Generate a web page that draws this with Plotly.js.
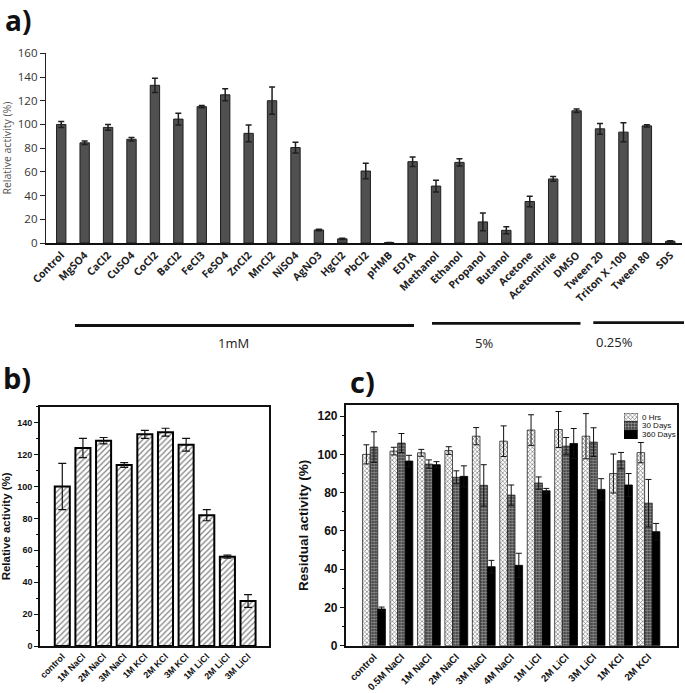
<!DOCTYPE html>
<html>
<head>
<meta charset="utf-8">
<script src="https://cdn.plot.ly/plotly-3.0.1.min.js"></script>
<style>html,body{margin:0;padding:0;background:#fff;}#chart{width:685px;height:693px;}</style>
</head>
<body>
<div id="chart"></div>
<script>
// ---- Panel a data ----
const catsA = ["Control","MgSO4","CaCl2","CuSO4","CoCl2","BaCl2","FeCl3","FeSO4","ZnCl2","MnCl2","NiSO4","AgNO3","HgCl2","PbCl2","pHMB","EDTA","Methanol","Ethanol","Propanol","Butanol","Acetone","Acetonitrile","DMSO","Tween 20","Triton X -100","Tween 80","SDS"];
const valsA = [100,84.5,97.5,87.5,133,104.5,115,125,92.5,120,80.5,11,3.5,60.7,0.4,68.6,48,68,17.8,10.7,35,54,111.5,96.3,93.5,98.8,1.5];
const errA  = [2.5,1.5,2.5,1.5,6,5,1,5,7,11.5,4.5,0.6,0.5,6.5,0,4,5,3,7.5,3,4.5,2,1.5,4.5,8,1,0.5];
const groupLabelsA = ["1mM","5%","0.25%"];

// ---- Panel b data ----
const catsB = ["control","1M NaCl","2M NaCl","3M NaCl","1M KCl","2M KCl","3M KCl","1M LiCl","2M LiCl","3M LiCl"];
const valsB = [100,124.1,128.7,113.5,132.7,134,126.2,82,56,28.2];
const errB  = [14.5,6,2,1.5,2.5,2.5,4,3.5,1,4];

// ---- Panel c data ----
const catsC = ["control","0.5M NaCl","1M NaCl","2M NaCl","3M NaCl","4M NaCl","1M LiCl","2M LiCl","3M LiCl","1M KCl","2M KCl"];
const seriesC = ["0 Hrs","30 Days","360 Days"];
const vals0h   = [100,101.7,100.8,102,109.5,106.9,112.7,113,109.5,90,100.9];
const err0h    = [5,2,1.8,2,4.5,8,8,9.4,11.8,10.2,5.3];
const vals30d  = [103.8,105.9,94.9,88,83.8,78.7,85,104.3,106.4,96.7,74.5];
const err30d   = [8,5,2.2,3.4,10.8,5.3,3.2,4.5,7.5,4.3,12.4];
const vals360d = [19.2,96.5,94.6,88.5,41.3,42,81,105.7,81.7,84,59.6];
const err360d  = [1,3,1.6,5.5,3.3,6.3,1.2,7.8,5.6,6,4.3];

const W = 685, H = 693;
const px = x => x / W;
const py = y => 1 - y / H;

const markersC = [
  {color: 'white', line: {color: '#222', width: 0.8},
   pattern: {shape: 'x', fgcolor: '#7a7a7a', bgcolor: 'white', size: 3, solidity: 0.4}},
  {color: '#555', line: {color: '#222', width: 0.8},
   pattern: {shape: '+', fgcolor: '#9a9a9a', bgcolor: '#4a4a4a', size: 3, solidity: 0.35}},
  {color: '#000', line: {color: '#000', width: 0.8}}
];
const valsC = [vals0h, vals30d, vals360d];
const errsC = [err0h, err30d, err360d];
const offsC = [-0.415, -0.138, 0.139];

const traces = [
  {
    type: 'bar', x: catsA, y: valsA, xaxis: 'x', yaxis: 'y', width: 0.4,
    marker: {color: '#505050', line: {color: '#1e1e1e', width: 1}},
    error_y: {type: 'data', array: errA, visible: true, color: '#1e1e1e', thickness: 1.5, width: 3}
  },
  {
    type: 'bar', x: catsB, y: valsB, xaxis: 'x2', yaxis: 'y2', width: 0.73,
    marker: {color: 'white', line: {color: 'black', width: 2},
      pattern: {shape: '/', fgcolor: '#808080', bgcolor: 'white', size: 4, solidity: 0.3}},
    error_y: {type: 'data', array: errB, visible: true, color: '#111', thickness: 1.2, width: 4}
  }
];
seriesC.forEach((name, i) => {
  traces.push({
    type: 'bar', name: name, x: catsC, y: valsC[i], xaxis: 'x3', yaxis: 'y3',
    width: 0.277, offset: offsC[i], marker: markersC[i],
    error_y: {type: 'data', array: errsC[i], visible: true, color: '#111', thickness: 1, width: 3}
  });
});
// legend key boxes for panel c (one full-width key box per series)
seriesC.forEach((name, i) => {
  traces.push({
    type: 'bar', orientation: 'h', name: name, y: [name], x: [1], xaxis: 'x4', yaxis: 'y4',
    width: 1, marker: markersC[i], hoverinfo: 'skip'
  });
});

const fa = "Open Sans, sans-serif";
const fb = "Liberation Sans, Arial, sans-serif";

const annotations = [
  {text: groupLabelsA[0], xref: 'paper', yref: 'paper', x: px(233.5), y: py(342.5), showarrow: false, font: {family: fa, size: 13, color: '#222'}},
  {text: groupLabelsA[1], xref: 'paper', yref: 'paper', x: px(495), y: py(342.5), showarrow: false, font: {family: fa, size: 13, color: '#222'}},
  {text: groupLabelsA[2], xref: 'paper', yref: 'paper', x: px(635), y: py(341.5), showarrow: false, font: {family: fa, size: 13, color: '#222'}},
  {text: '<b>a)</b>', xref: 'paper', yref: 'paper', x: px(3), y: py(20), xanchor: 'left', yanchor: 'middle', showarrow: false, font: {family: fa, size: 28, color: '#111'}},
  {text: '<b>b)</b>', xref: 'paper', yref: 'paper', x: px(1), y: py(377), xanchor: 'left', yanchor: 'middle', showarrow: false, font: {family: fa, size: 29, color: '#111'}},
  {text: '<b>c)</b>', xref: 'paper', yref: 'paper', x: px(348), y: py(381), xanchor: 'left', yanchor: 'middle', showarrow: false, font: {family: fa, size: 29, color: '#111'}}
];
seriesC.forEach((name, i) => {
  annotations.push({text: name, xref: 'paper', yref: 'y4', x: px(640), y: name, xanchor: 'left', yanchor: 'middle',
    showarrow: false, font: {family: fb, size: 8, color: '#111'}});
});

const layout = {
  width: W, height: H,
  margin: {l: 0, r: 0, t: 0, b: 0},
  paper_bgcolor: 'white', plot_bgcolor: 'rgba(0,0,0,0)',
  barmode: 'overlay',
  showlegend: false,
  // Panel a
  xaxis: {
    domain: [px(46), px(682)], anchor: 'y', type: 'category', range: [-0.65, 26.5],
    showline: true, linecolor: '#111', linewidth: 2, ticks: '', showgrid: false, zeroline: false,
    tickangle: -45, tickfont: {family: fa, size: 10.5, color: '#222', weight: 700}
  },
  yaxis: {
    domain: [py(243), py(53.3)], anchor: 'x', range: [0, 160], dtick: 20,
    showline: true, linecolor: '#222', linewidth: 1.2, ticks: 'outside', ticklen: 5, tickcolor: '#222',
    showgrid: false, zeroline: false,
    tickfont: {family: fa, size: 11.5, color: '#333'},
    title: {text: 'Relative activity (%)', font: {family: fa, size: 10.5, color: '#555'}, standoff: 6}
  },
  // Panel b
  xaxis2: {
    domain: [px(40), px(269.3)], anchor: 'y2', type: 'category', range: [-1.08, 10.03],
    showline: true, mirror: true, linecolor: '#111', linewidth: 1.8, ticks: '', showgrid: false, zeroline: false,
    tickangle: -45, tickfont: {family: fb, size: 9, color: '#111', weight: 700}
  },
  yaxis2: {
    domain: [py(646), py(406.7)], anchor: 'x2', range: [0, 150], dtick: 20,
    showline: true, mirror: true, linecolor: '#111', linewidth: 1.8, ticks: 'outside', ticklen: 4, tickcolor: '#111',
    minor: {ticks: 'outside', dtick: 10, ticklen: 2, tickcolor: '#111'},
    showgrid: false, zeroline: false,
    tickfont: {family: fb, size: 9, color: '#111', weight: 700},
    title: {text: 'Relative activity (%)', font: {family: fb, size: 11.5, color: '#111', weight: 700}, standoff: 6}
  },
  // Panel c
  xaxis3: {
    domain: [px(345.7), px(676.7)], anchor: 'y3', type: 'category', range: [-1.03, 11.03],
    showline: true, mirror: true, linecolor: '#111', linewidth: 1.8, ticks: '', showgrid: false, zeroline: false,
    tickangle: -45, tickfont: {family: fb, size: 9.8, color: '#111', weight: 700}
  },
  yaxis3: {
    domain: [py(645.7), py(405)], anchor: 'x3', range: [0, 125.8], dtick: 20,
    showline: true, mirror: true, linecolor: '#111', linewidth: 1.8, ticks: 'outside', ticklen: 4, tickcolor: '#111',
    minor: {ticks: 'outside', dtick: 10, ticklen: 2, tickcolor: '#111'},
    showgrid: false, zeroline: false,
    tickfont: {family: fb, size: 12, color: '#111', weight: 700},
    title: {text: 'Residual activity (%)', font: {family: fb, size: 13.5, color: '#111', weight: 700}, standoff: 6}
  },
  // Panel c key boxes
  xaxis4: {domain: [px(624), px(637.7)], anchor: 'y4', range: [0, 1], visible: false, fixedrange: true},
  yaxis4: {domain: [py(439), py(413)], anchor: 'x4', type: 'category', range: [2.5, -0.5], visible: false, fixedrange: true},
  shapes: [
    {type: 'line', xref: 'paper', yref: 'paper', x0: px(75), x1: px(414), y0: py(325.5), y1: py(325.5), line: {color: '#111', width: 2.8}},
    {type: 'line', xref: 'paper', yref: 'paper', x0: px(432), x1: px(580.5), y0: py(323.3), y1: py(323.3), line: {color: '#111', width: 2.8}},
    {type: 'line', xref: 'paper', yref: 'paper', x0: px(593.3), x1: px(684), y0: py(322.7), y1: py(322.7), line: {color: '#111', width: 2.8}}
  ],
  annotations: annotations
};

Plotly.newPlot('chart', traces, layout, {displayModeBar: false, staticPlot: true});
</script>
</body>
</html>
